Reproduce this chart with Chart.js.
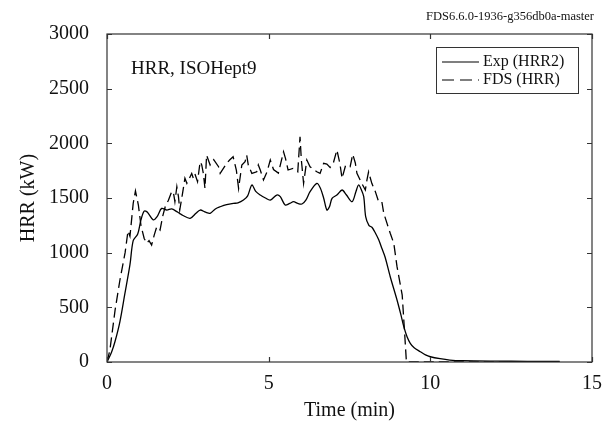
<!DOCTYPE html>
<html>
<head>
<meta charset="utf-8">
<script src="https://cdn.jsdelivr.net/npm/chart.js@4.4.1/dist/chart.umd.min.js"></script>
<style>
    html, body { margin: 0; padding: 0; background: #fff; }
    #wrap { width: 615px; height: 426px; position: relative; }
</style>
</head>
<body>
<div id="wrap"><canvas id="hrrChart" width="615" height="426"></canvas></div>
<script>
// Experiment (HRR2)
const expTime = [0, 0.14, 0.25, 0.40, 0.55, 0.71, 0.81, 0.95, 1.05, 1.15, 1.25, 1.43, 1.55, 1.69, 1.85, 2.0, 2.16, 2.35, 2.57, 2.75, 2.88, 3.05, 3.19, 3.35, 3.5, 3.7, 3.91, 4.05, 4.22, 4.35, 4.48, 4.6, 4.74, 4.9, 5.05, 5.25, 5.36, 5.51, 5.65, 5.77, 5.9, 6.03, 6.15, 6.28, 6.49, 6.6, 6.7, 6.8, 6.88, 6.96, 7.11, 7.27, 7.4, 7.58, 7.7, 7.78, 7.86, 7.94, 8.0, 8.1, 8.2, 8.3, 8.4, 8.5, 8.6, 8.76, 8.97, 9.1, 9.18, 9.28, 9.38, 9.5, 9.69, 9.85, 10.0, 10.3, 10.6, 11, 12, 13, 14];
const expHrr = [0, 90, 190, 370, 620, 890, 1110, 1170, 1300, 1380, 1370, 1300, 1330, 1405, 1390, 1400, 1375, 1340, 1314, 1360, 1390, 1370, 1360, 1400, 1420, 1440, 1451, 1455, 1481, 1520, 1619, 1560, 1527, 1500, 1481, 1527, 1512, 1436, 1450, 1466, 1450, 1445, 1480, 1558, 1634, 1590, 1500, 1390, 1420, 1497, 1527, 1573, 1530, 1466, 1560, 1619, 1580, 1512, 1330, 1250, 1230, 1180, 1120, 1040, 960, 780, 567, 420, 323, 230, 171, 130, 94, 65, 48, 30, 18, 12, 8, 6, 5];

// FDS (HRR)
const fdsTime = [0, 0.09, 0.25, 0.4, 0.56, 0.65, 0.71, 0.81, 0.88, 0.97, 1.05, 1.15, 1.23, 1.3, 1.38, 1.46, 1.54, 1.64, 1.72, 1.8, 1.9, 2.0, 2.05, 2.1, 2.16, 2.21, 2.25, 2.33, 2.41, 2.47, 2.55, 2.62, 2.67, 2.72, 2.8, 2.88, 2.93, 2.98, 3.03, 3.08, 3.19, 3.3, 3.45, 3.5, 3.6, 3.7, 3.8, 3.9, 4.0, 4.07, 4.17, 4.27, 4.32, 4.37, 4.48, 4.63, 4.68, 4.74, 4.84, 4.95, 5.05, 5.15, 5.3, 5.46, 5.52, 5.6, 5.75, 5.9, 5.97, 6.01, 6.08, 6.18, 6.28, 6.4, 6.49, 6.59, 6.7, 6.8, 6.9, 7.0, 7.11, 7.2, 7.27, 7.38, 7.52, 7.6, 7.68, 7.73, 7.88, 7.99, 8.04, 8.09, 8.19, 8.3, 8.4, 8.5, 8.56, 8.66, 8.76, 8.87, 8.97, 9.13, 9.2, 9.26, 10, 12, 14];
const fdsHrr = [0, 110, 475, 750, 1000, 1200, 1150, 1450, 1565, 1436, 1250, 1130, 1085, 1110, 1070, 1160, 1238, 1207, 1330, 1420, 1480, 1558, 1558, 1466, 1603, 1512, 1390, 1530, 1680, 1634, 1680, 1725, 1680, 1720, 1650, 1832, 1802, 1725, 1588, 1893, 1802, 1850, 1786, 1725, 1770, 1817, 1850, 1878, 1756, 1588, 1802, 1832, 1893, 1802, 1725, 1740, 1802, 1756, 1665, 1740, 1847, 1760, 1728, 1923, 1863, 1756, 1770, 1740, 2060, 1850, 1634, 1847, 1786, 1760, 1740, 1725, 1817, 1810, 1780, 1820, 1940, 1820, 1680, 1800, 1786, 1900, 1820, 1725, 1634, 1573, 1665, 1740, 1634, 1558, 1466, 1466, 1360, 1268, 1177, 1085, 872, 612, 290, 0, 0, 0, 0];

const xTicks = [0, 5, 10, 15];
const yTicks = [0, 500, 1000, 1500, 2000, 2500, 3000];
const seriesNames = ['Exp (HRR2)', 'FDS (HRR)'];

const SERIF = '"Liberation Serif", "Times New Roman", serif';

function toPoints(xs, ys) {
    return xs.map((x, i) => ({ x: x, y: ys[i] }));
}

// box, inward ticks, labels and legend
const framePlugin = {
    id: 'frame',
    afterDatasetsDraw(chart) {
        const { ctx, chartArea: a, scales } = chart;
        const len = 5;
        ctx.save();
        ctx.strokeStyle = '#333';
        ctx.lineWidth = 1.2;
        ctx.strokeRect(a.left, a.top, a.right - a.left, a.bottom - a.top);

        ctx.beginPath();
        xTicks.forEach(v => {
            const px = Math.round(scales.x.getPixelForValue(v)) + 0.5;
            ctx.moveTo(px, a.bottom); ctx.lineTo(px, a.bottom - len);
            ctx.moveTo(px, a.top); ctx.lineTo(px, a.top + len);
        });
        yTicks.forEach(v => {
            const py = Math.round(scales.y.getPixelForValue(v)) + 0.5;
            ctx.moveTo(a.left, py); ctx.lineTo(a.left + len, py);
            ctx.moveTo(a.right, py); ctx.lineTo(a.right - len, py);
        });
        ctx.stroke();

        ctx.fillStyle = '#111';
        ctx.textBaseline = 'middle';
        ctx.font = '19px ' + SERIF;
        ctx.textAlign = 'left';
        ctx.fillText('HRR, ISOHept9', 131, 69);

        ctx.font = '12.5px ' + SERIF;
        ctx.textAlign = 'right';
        ctx.fillText('FDS6.6.0-1936-g356db0a-master', 594, 17);

        // legend
        const lx = 436, ly = 47, lw = 142, lh = 46;
        ctx.strokeStyle = '#333';
        ctx.lineWidth = 1;
        ctx.strokeRect(lx + 0.5, ly + 0.5, lw, lh);
        const rows = [ly + 15, ly + 33];
        ctx.strokeStyle = '#000';
        ctx.lineWidth = 1.2;
        rows.forEach((ry, i) => {
            ctx.setLineDash(i === 0 ? [] : [12, 6]);
            ctx.beginPath();
            ctx.moveTo(lx + 6, ry); ctx.lineTo(lx + 43, ry);
            ctx.stroke();
        });
        ctx.setLineDash([]);
        ctx.font = '16px ' + SERIF;
        ctx.textAlign = 'left';
        rows.forEach((ry, i) => ctx.fillText(seriesNames[i], lx + 47, ry));
        ctx.restore();
    }
};

new Chart(document.getElementById('hrrChart'), {
    type: 'line',
    data: {
        datasets: [{
            label: seriesNames[0],
            data: toPoints(expTime, expHrr),
            borderColor: '#000',
            borderWidth: 1.3,
            pointRadius: 0,
            tension: 0.3,
            fill: false
        }, {
            label: seriesNames[1],
            data: toPoints(fdsTime, fdsHrr),
            borderColor: '#000',
            borderWidth: 1.3,
            borderDash: [10, 5],
            pointRadius: 0,
            tension: 0,
            fill: false
        }]
    },
    options: {
        responsive: false,
        animation: false,
        devicePixelRatio: 1,
        layout: { padding: { top: 34, right: 23, left: 0, bottom: 0 } },
        plugins: { legend: { display: false }, tooltip: { enabled: false } },
        scales: {
            x: {
                type: 'linear',
                min: 0,
                max: 15,
                afterFit: (s) => { s.height = 64; },
                afterBuildTicks: (s) => { s.ticks = xTicks.map(v => ({ value: v })); },
                grid: { display: false, drawTicks: false },
                border: { display: false },
                ticks: { padding: 10, color: '#111', font: { family: SERIF, size: 20 }, maxRotation: 0, callback: (v) => String(v) },
                title: { display: true, text: 'Time (min)', color: '#111', font: { family: SERIF, size: 20 }, padding: { top: 0, bottom: 3 } }
            },
            y: {
                min: 0,
                max: 3000,
                afterFit: (s) => { s.width = 107; },
                afterBuildTicks: (s) => { s.ticks = yTicks.map(v => ({ value: v })); },
                grid: { display: false, drawTicks: false },
                border: { display: false },
                ticks: { padding: 18, color: '#111', font: { family: SERIF, size: 20 }, callback: (v) => String(v) },
                title: { display: true, text: 'HRR (kW)', color: '#111', font: { family: SERIF, size: 20 }, padding: { top: 17, bottom: 0 } }
            }
        }
    },
    plugins: [framePlugin]
});
</script>
</body>
</html>
